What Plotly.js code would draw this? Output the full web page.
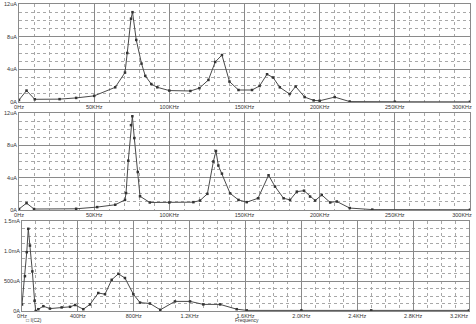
<!DOCTYPE html>
<html><head><meta charset="utf-8">
<script src="https://cdn.plot.ly/plotly-3.0.1.min.js"></script>
<style>html,body{margin:0;padding:0;background:#fff}#c{width:476px;height:324px}</style>
</head><body><div id="c"></div>
<script>
// Panel 1 (frequency in KHz, current in uA)
const f1 = [0,5,10.5,27,38,50,64,70.5,72,74.5,75.5,78,81.5,84,88,92,100,114,120,126,130.5,135,140,146,155,160,165,169,173.5,180,184,190,196,200,210,220,250,300];
const i1 = [0.25,1.4,0.33,0.35,0.5,0.75,1.8,3.6,6.0,10.2,11.0,7.6,4.7,3.2,2.2,1.8,1.4,1.35,1.7,2.7,4.9,5.75,2.5,1.47,1.47,1.96,3.4,3.0,1.8,0.98,1.9,0.6,0.2,0.15,0.6,0.05,0.03,0.02];
// Panel 2 (frequency in KHz, current in uA)
const f2 = [0,5,10,38,52,64,70.5,71.2,72.7,74.5,75.4,76.7,79,80.5,87,100,116,120.4,125.3,129.3,131,132.6,135,140.4,146,151.5,159,166,170.3,176,180.3,184.8,189.6,193.6,197,201.4,207,211.4,220,235,300];
const i2 = [0.12,0.85,0.12,0.15,0.36,0.65,1.25,2.1,6.1,10.5,11.6,8.9,4.7,1.7,0.93,0.93,0.97,1.17,2.0,6.0,7.3,5.5,4.5,2.06,1.25,0.97,1.45,4.3,2.9,1.45,1.25,2.27,2.39,1.66,1.17,1.86,0.93,1.05,0.24,0.05,0.03];
// Panel 3 (frequency in Hz, current in mA)
const f3 = [0,21,34,45,57,74,90,98,117,153,200,284,344,380,439,487,546,594,642,690,737,797,845,916,990,1095,1203,1298,1418,1537,1609,2000,2500,3200];
const i3 = [0.11,0.58,0.98,1.37,1.09,0.66,0.17,0.0,0.03,0.08,0.04,0.06,0.07,0.1,0.03,0.11,0.3,0.28,0.52,0.62,0.55,0.28,0.14,0.125,0.02,0.16,0.16,0.11,0.11,0.03,0.01,0.01,0.01,0.01];

const xTickK = [0,50,100,150,200,250,300];
const xTickKText = ["0Hz","50KHz","100KHz","150KHz","200KHz","250KHz","300KHz"];
const xTickH = [0,400,800,1200,1600,2000,2400,2800,3200];
const xTickHText = ["0Hz","400Hz","800Hz","1.2KHz","1.6KHz","2.0KHz","2.4KHz","2.8KHz","3.2KHz"];
const yTickU = [0,4,8,12];
const yTickUText = ["0A","4uA","8uA","12uA"];
const yTickM = [0,0.5,1.0,1.5];
const yTickMText = ["0A","500uA","1.0mA","1.5mA"];

const W=476,H=324;
const fnt = {family:"Liberation Sans, Arial, sans-serif", size:6, color:"#333"};
const tfnt = {family:"Liberation Sans, Arial, sans-serif", size:5.5, color:"#333"};
const afnt = {family:"Liberation Sans, Arial, sans-serif", size:5, color:"#333"};
function ax(dom, vals, text, rng, minorStep, anchor){
  return {domain:dom, range:rng, tickmode:'array', tickvals:vals, ticktext:text,
    showgrid:true, gridcolor:'#8a8a8a', gridwidth:1, zeroline:false,
    showline:true, linecolor:'#8a8a8a', mirror:true, ticks:'', tickfont:tfnt,
    ticklabelstandoff:0, anchor:anchor, fixedrange:true,
    minor:{tickmode:'linear', tick0:0, dtick:minorStep, showgrid:true, gridcolor:'#a8a8a8', griddash:'dot', gridwidth:1}};
}
// label-only overlay axis: the last label is pulled inside the plot edge like the original
function lab(over, anchor, vals, text, rng, pxPerUnit, endShiftPx){
  const pos = vals.map((v,i)=> i===vals.length-1 ? v - endShiftPx/pxPerUnit : v);
  return {overlaying:over, anchor:anchor, side:'bottom', range:rng, tickmode:'array',
    tickvals:pos, ticktext:text, showgrid:false, zeroline:false, showline:false, ticks:'',
    tickfont:tfnt, ticklabelstandoff:0, fixedrange:true};
}
const line = {color:'#4a4a4a', width:1};
const mk = {size:2.5, color:'#333', symbol:'square'};
const data = [
  {x:f1, y:i1, xaxis:'x', yaxis:'y', mode:'lines+markers', line:line, marker:mk, name:'I(C1)'},
  {x:f2, y:i2, xaxis:'x2', yaxis:'y2', mode:'lines+markers', line:line, marker:mk, name:'I(C1)'},
  {x:f3, y:i3, xaxis:'x3', yaxis:'y3', mode:'lines+markers', line:line, marker:mk, name:'I(C2)'},
  {x:[], y:[], xaxis:'x4', yaxis:'y', showlegend:false},
  {x:[], y:[], xaxis:'x5', yaxis:'y2', showlegend:false},
  {x:[], y:[], xaxis:'x6', yaxis:'y3', showlegend:false}
];
const d1x=[19/W,470/W], d3x=[22/W,469/W];
const x1 = ax(d1x, xTickK, xTickKText, [0,300], 10, 'y'); x1.showticklabels=false;
const x2 = ax(d1x, xTickK, xTickKText, [0,300], 10, 'y2'); x2.showticklabels=false;
const x3 = ax(d3x, xTickH, xTickHText, [0,3200], 100, 'y3'); x3.showticklabels=false;
const layout = {
  width:W, height:H, margin:{l:0,r:0,t:0,b:0}, showlegend:false,
  paper_bgcolor:'#fff', plot_bgcolor:'#fff', font:fnt,
  xaxis: x1,
  yaxis: ax([1-102/H,1-4/H], yTickU, yTickUText, [0,12], 1, 'x'),
  xaxis2: x2,
  yaxis2: ax([1-210/H,1-113/H], yTickU, yTickUText, [0,12], 1, 'x2'),
  xaxis3: x3,
  yaxis3: ax([1-311/H,1-221/H], yTickM, yTickMText, [0,1.5], 0.125, 'x3'),
  xaxis4: lab('x', 'y', xTickK, xTickKText, [0,300], 451/300, 8),
  xaxis5: lab('x2', 'y2', xTickK, xTickKText, [0,300], 451/300, 8),
  xaxis6: lab('x3', 'y3', xTickH, xTickHText, [0,3200], 447/3200, 10),
  annotations:[
    {text:'Frequency', xref:'paper', yref:'paper', x:247/W, y:0, xanchor:'center', yanchor:'bottom', yshift:-1, showarrow:false, font:afnt},
    {text:'□ I(C2)', xref:'paper', yref:'paper', x:24/W, y:0, xanchor:'left', yanchor:'bottom', yshift:-1, showarrow:false, font:afnt}
  ]
};
Plotly.newPlot('c', data, layout, {staticPlot:true, displayModeBar:false});
</script></body></html>
